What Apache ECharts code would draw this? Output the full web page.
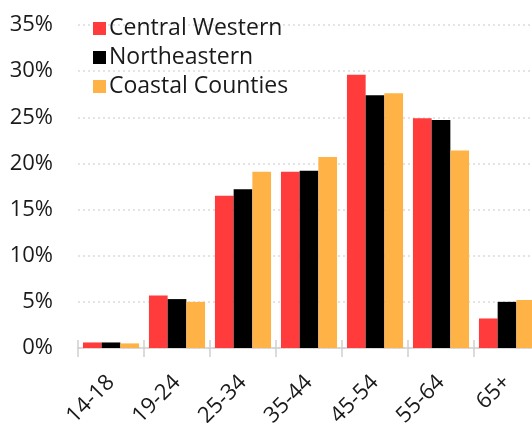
<!DOCTYPE html>
<html>
<head>
<meta charset="utf-8">
<script src="https://cdn.jsdelivr.net/npm/echarts@6/dist/echarts.min.js"></script>
<style>
  html, body { margin: 0; padding: 0; background: #fff; }
  #chart { width: 532px; height: 423px; }
</style>
</head>
<body>
<div id="chart"></div>
<script>
// Age distribution by region (share of population, %)
const ageGroups = ['14-18', '19-24', '25-34', '35-44', '45-54', '55-64', '65+'];
const centralWestern = [0.6, 5.7, 16.5, 19.1, 29.6, 24.9, 3.2];
const northeastern   = [0.6, 5.3, 17.2, 19.2, 27.4, 24.7, 5.0];
const coastalCounties = [0.5, 5.0, 19.1, 20.7, 27.6, 21.4, 5.2];
const yTicks = { min: 0, max: 35, interval: 5 };

const FONT = 'Open Sans';
const TEXT = '#1a1a1a';

const chart = echarts.init(document.getElementById('chart'), null, { renderer: 'canvas' });

function barSeries(name, data, color) {
  return {
    name: name,
    type: 'bar',
    data: data,
    barGap: '0%',
    barCategoryGap: '15%',
    itemStyle: { color: color },
    emphasis: { disabled: true }
  };
}

chart.setOption({
  animation: false,
  textStyle: { fontFamily: FONT },
  legend: {
    orient: 'vertical',
    left: 88,
    top: 12,
    itemWidth: 13,
    itemHeight: 13,
    itemGap: 6,
    icon: 'rect',
    textStyle: { fontFamily: FONT, fontSize: 23, color: TEXT, padding: [0, 0, 0, -2] },
    data: ['Central Western', 'Northeastern', 'Coastal Counties']
  },
  grid: { left: 78, right: -8, top: 25, bottom: 75, containLabel: false, outerBoundsMode: 'none' },
  xAxis: [
    {
      type: 'category',
      data: ageGroups,
      axisLine: { show: true, lineStyle: { color: '#d0d0d0', width: 1.5 } },
      axisTick: { show: true, length: 9, lineStyle: { color: '#d0d0d0', width: 1.5 } },
      axisLabel: {
        rotate: 45,
        margin: 31,
        padding: [24, 0, 0, 0],
        fontFamily: FONT,
        fontSize: 22,
        color: TEXT
      }
    },
    {
      // upper half of the crossing tick marks
      type: 'category',
      data: ageGroups,
      position: 'bottom',
      axisLine: { show: false },
      axisTick: { show: true, inside: true, length: 8, lineStyle: { color: '#d0d0d0', width: 1.5 } },
      axisLabel: { show: false }
    }
  ],
  yAxis: {
    type: 'value',
    min: yTicks.min,
    max: yTicks.max,
    interval: yTicks.interval,
    axisLine: { show: false },
    axisTick: { show: false },
    axisLabel: {
      margin: 25,
      fontFamily: FONT,
      fontSize: 22,
      color: TEXT,
      formatter: v => v + '%'
    },
    splitLine: { show: true, lineStyle: { color: '#dcdcdc', type: [2, 3], width: 1.5 } }
  },
  series: [
    barSeries('Central Western', centralWestern, '#ff3b3b'),
    barSeries('Northeastern', northeastern, '#000000'),
    barSeries('Coastal Counties', coastalCounties, '#ffb347')
  ]
});
</script>
</body>
</html>
